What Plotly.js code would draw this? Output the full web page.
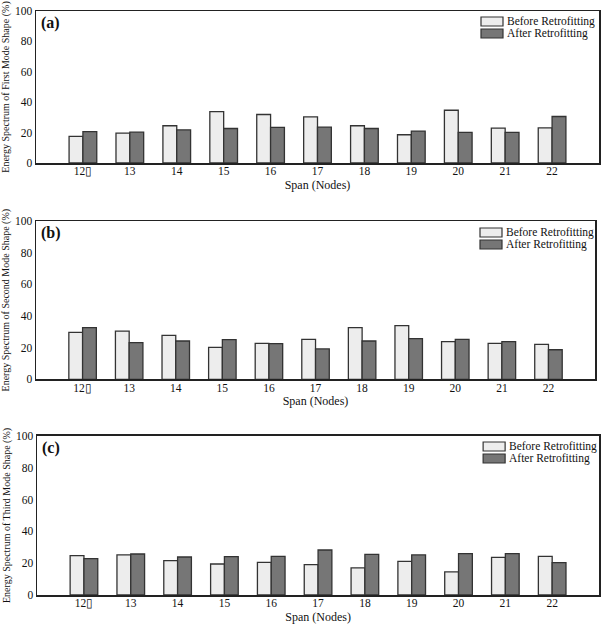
<!DOCTYPE html>
<html>
<head>
<meta charset="utf-8">
<script src="https://cdn.plot.ly/plotly-3.0.1.min.js"></script>
<style>html,body{margin:0;padding:0;background:#fff;}#chart{width:602px;height:625px;}</style>
</head>
<body>
<div id="chart"></div>
<script>
const spans = ["12\u25AF","13","14","15","16","17","18","19","20","21","22"];
const beforeA = [17.5,19.7,24.5,33.8,31.9,30.3,24.5,18.6,34.7,22.9,23.1];
const afterA  = [20.7,20.3,21.8,22.7,23.4,23.6,22.7,21.0,20.1,20.1,30.6];
const beforeB = [29.7,30.5,27.8,20.2,22.7,25.3,32.6,33.9,23.8,22.7,22.1];
const afterB  = [32.6,23.2,24.2,25.1,22.5,19.2,24.2,25.7,25.3,23.8,18.7];
const beforeC = [24.7,25.2,21.6,19.5,20.5,19.1,17.0,21.2,14.5,23.7,24.3];
const afterC  = [22.9,25.8,23.9,24.1,24.3,28.3,25.6,25.2,26.0,26.0,20.3];
const yTitles = ["Energy Spectrum of First Mode Shape (%)","Energy Spectrum of Second Mode Shape (%)","Energy Spectrum of Third Mode Shape (%)"];
const panelLabels = ["(a)","(b)","(c)"];
const seriesNames = ["Before Retrofitting","After Retrofitting"];

const FONT = "'Liberation Serif', 'Times New Roman', Times, serif";
const beforeColor = "#ededed", afterColor = "#767676", edge = "#333333";
const fills = [beforeColor, afterColor];

const W = 602, H = 625, ML = 36, MR = 3, MT = 11, MB = 30;
const PW = W - ML - MR, PH = H - MT - MB;

const sets = [[beforeA,afterA],[beforeB,afterB],[beforeC,afterC]];
const traces = [];
sets.forEach((s,i)=>{
  const sfx = i===0 ? "" : String(i+1);
  s.forEach((vals,j)=>{
    traces.push({
      type:"bar", x:spans, y:vals, name:seriesNames[j],
      xaxis:"x"+sfx, yaxis:"y"+sfx, showlegend:false,
      marker:{color: fills[j], line:{color:edge,width:1.3}},
      hoverinfo:"skip"
    });
  });
});

const doms = [[0.7397,1.0],[0.3693,0.6404],[0.0,0.2723]];
const xdoms = [[0,1],[0,0.993],[0.002,1]];
// legend placement in pixels relative to each plot's top-left corner
const legLeft = [445, 444, 446];
const legTop = [6, 7, 6];
const layout = {
  width:W, height:H,
  margin:{l:ML,r:MR,t:MT,b:MB},
  paper_bgcolor:"#fff", plot_bgcolor:"#fff",
  font:{family:FONT,size:12,color:"#111"},
  barmode:"group", bargap:0.41, bargroupgap:0,
  showlegend:false,
  annotations:[], shapes:[]
};
for(let i=0;i<3;i++){
  const sfx = i===0 ? "" : String(i+1);
  const xr = "x"+sfx+" domain", yr = "y"+sfx+" domain";
  const pw = (xdoms[i][1]-xdoms[i][0])*PW, ph = (doms[i][1]-doms[i][0])*PH;
  layout["xaxis"+sfx] = {
    type:"category", domain:xdoms[i], anchor:"y"+sfx, range:[-1,11],
    showline:true, mirror:true, linecolor:"#222", linewidth:1.5,
    ticks:"", showgrid:false, zeroline:false, ticklabelstandoff:-3,
    tickfont:{family:FONT,size:11.5,color:"#111"},
    title:{text:"Span (Nodes)", font:{family:FONT,size:12,color:"#111"}, standoff:4}
  };
  layout["yaxis"+sfx] = {
    domain:doms[i], anchor:"x"+sfx, range:[0,100], dtick:20,
    showline:true, mirror:true, linecolor:"#222", linewidth:1.5,
    ticks:"", showgrid:false, zeroline:false,
    tickfont:{family:FONT,size:11.5,color:"#111"},
    title:{text:yTitles[i], font:{family:FONT,size:10,color:"#111"}, standoff:3}
  };
  layout.annotations.push({
    text:"<b>"+panelLabels[i]+"</b>", xref:xr, yref:yr,
    x:3/pw, y:1-1/ph, xanchor:"left", yanchor:"top", showarrow:false,
    font:{family:FONT,size:16,color:"#111"}
  });
  seriesNames.forEach((nm,j)=>{
    const top = legTop[i] + j*12, bot = top + 9;
    const x0 = legLeft[i], x1 = x0 + 22;
    layout.shapes.push({
      type:"rect", xref:xr, yref:yr,
      x0:x0/pw, x1:x1/pw, y0:1-top/ph, y1:1-bot/ph,
      fillcolor:fills[j], line:{color:edge,width:1.2}
    });
    layout.annotations.push({
      text:nm, xref:xr, yref:yr, x:(x1+2)/pw, y:1-(top+4.5)/ph,
      xanchor:"left", yanchor:"middle", showarrow:false,
      font:{family:FONT,size:11.5,color:"#111"}
    });
  });
}
Plotly.newPlot("chart", traces, layout, {displayModeBar:false, staticPlot:true});
</script>
</body>
</html>
